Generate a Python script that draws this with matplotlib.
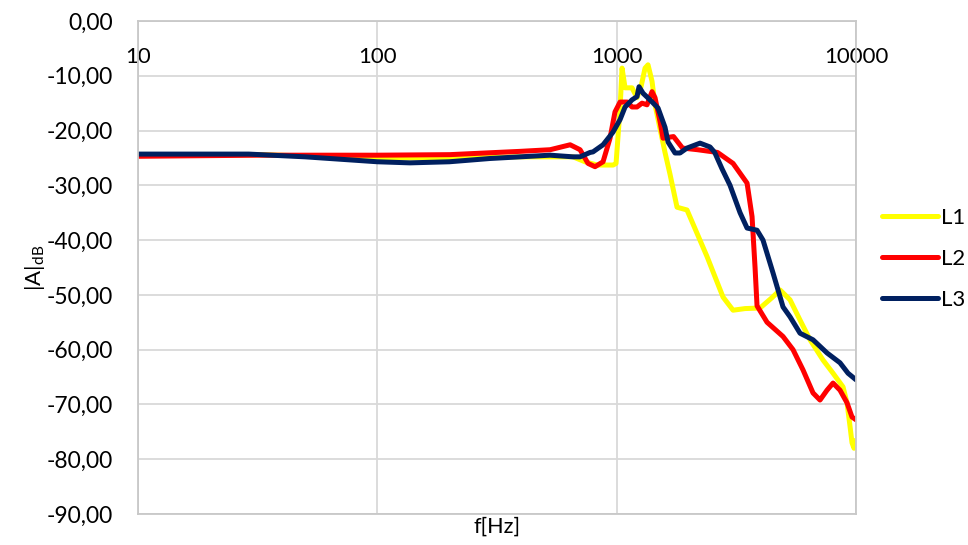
import numpy as np
import matplotlib.pyplot as plt
from matplotlib.ticker import FuncFormatter, FixedLocator, NullLocator

plt.rcParams['font.family'] = ['Lato', 'DejaVu Sans']

# Frequency response |A| in dB for three loudspeaker measurements
f_l1 = [10, 32, 100, 201, 395, 657, 737, 829, 966, 994, 1033, 1053, 1084, 1159,
        1216, 1264, 1314, 1352, 1405, 1446, 1547, 1592, 1671, 1787, 1967, 2385,
        2782, 3064, 3440, 3972, 4459, 4815, 5301, 5836, 6426, 7281, 8017, 8826,
        9171, 9441, 9624, 9811, 10000]
a_l1 = [-24.5, -24.4, -25.0, -25.0, -24.8, -24.8, -25.7, -26.3, -26.3, -26.0,
        -16.0, -8.6, -12.2, -12.2, -14.0, -12.0, -8.6, -8.0, -11.0, -15.3, -21.4,
        -24.0, -28.0, -34.0, -34.5, -43.0, -50.4, -52.8, -52.5, -52.4, -50.5,
        -49.1, -50.9, -54.6, -58.2, -61.9, -64.3, -66.8, -69.7, -74.0, -77.0,
        -78.0, -76.5]

f_l2 = [10, 32, 100, 201, 395, 527, 639, 703, 759, 812, 877, 938, 984, 1033,
        1106, 1159, 1216, 1276, 1339, 1405, 1446, 1518, 1562, 1728, 1884, 2177,
        2639, 3064, 3506, 3678, 3786, 3859, 4249, 4955, 5456, 6006, 6613, 7073,
        7566, 8017, 8574, 9171, 9624, 10000]
a_l2 = [-24.7, -24.5, -24.5, -24.4, -23.8, -23.5, -22.6, -23.5, -26.0, -26.6,
        -25.7, -21.4, -16.6, -14.8, -14.8, -15.7, -15.7, -15.0, -15.3, -12.9,
        -14.0, -18.4, -21.4, -21.1, -23.2, -23.5, -24.0, -26.0, -29.6, -35.7,
        -45.0, -52.0, -55.0, -57.6, -60.0, -63.7, -67.9, -69.2, -67.4, -66.1,
        -67.4, -69.7, -72.3, -72.8]

f_l3 = [10, 29, 50, 100, 137, 200, 296, 395, 527, 657, 703, 774, 796, 877, 965,
        1033, 1084, 1159, 1216, 1240, 1289, 1378, 1489, 1592, 1639, 1753, 1839,
        1967, 2230, 2455, 2568, 2756, 2976, 3277, 3506, 3859, 4087, 4501, 4955,
        5301, 5836, 6613, 7566, 8574, 9260, 10000]
a_l3 = [-24.3, -24.3, -24.8, -25.7, -25.9, -25.7, -25.1, -24.8, -24.5, -24.8,
        -24.8, -24.0, -23.9, -22.6, -20.3, -18.0, -15.7, -14.4, -13.8, -12.0,
        -13.2, -14.4, -15.9, -19.4, -22.1, -24.1, -24.1, -23.2, -22.3, -23.0,
        -24.0, -27.0, -30.0, -35.0, -37.8, -38.2, -40.0, -46.0, -52.2, -54.0,
        -57.0, -58.2, -60.6, -62.4, -64.3, -65.5]

series = [("L1", f_l1, a_l1, "#FFFF00"),
          ("L2", f_l2, a_l2, "#FF0000"),
          ("L3", f_l3, a_l3, "#002060")]

x_ticks = [10, 100, 1000, 10000]
y_ticks = np.arange(-90, 1, 10)

fig = plt.figure(figsize=(9.68, 5.45), dpi=100)
ax = fig.add_axes([0.1426, 0.0569, 0.7417, 0.9046])

for name, f, a, col in series:
    ax.plot(f, a, color=col, lw=3.6, label=name, solid_joinstyle='round',
            solid_capstyle='round')

ax.set_xscale('log')
ax.set_xlim(10, 10000)
ax.set_ylim(-90, 0)
ax.xaxis.set_major_locator(FixedLocator(x_ticks))
ax.xaxis.set_minor_locator(NullLocator())
ax.xaxis.set_major_formatter(FuncFormatter(lambda v, p: f"{v:.0f}"))
ax.yaxis.set_major_locator(FixedLocator(y_ticks))
ax.yaxis.set_major_formatter(FuncFormatter(lambda v, p: f"{v:.2f}".replace('.', ',')))

ax.grid(True, color='#D9D9D9', lw=1.3)
ax.set_axisbelow(True)
for s in ax.spines.values():
    s.set_color('#C8C8C8')
    s.set_linewidth(1.3)

# x labels sit just under the 0 dB axis line at the top
ax.tick_params(axis='x', which='both', bottom=False, top=False, labelbottom=False,
               labeltop=True, pad=-33, labelsize=16, length=0)
ax.tick_params(axis='y', length=0, pad=18, labelsize=16.5)

ax.set_xlabel('f[Hz]', fontsize=15.5, labelpad=2)
ax.set_ylabel(r'|A|$_{\mathregular{dB}}$', fontsize=16, labelpad=0)

fig.legend(loc='center left', bbox_to_anchor=(882 / 968, 1 - 259 / 545),
           frameon=False, fontsize=16, handlelength=2.5, handletextpad=0.15,
           labelspacing=0.95, borderpad=0, borderaxespad=0)

fig.savefig('out.png', dpi=100)
